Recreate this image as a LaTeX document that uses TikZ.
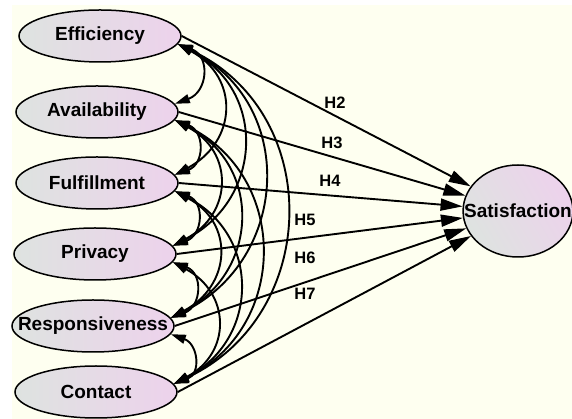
\documentclass[tikz,border=0pt]{standalone}
\usepackage{fontspec}
\setmainfont{Liberation Sans}
\usetikzlibrary{arrows.meta,shapes.geometric}

\definecolor{paper}{HTML}{FEFFF0}
\definecolor{fillgray}{HTML}{DEE3E0}
\definecolor{fillpink}{HTML}{EDD2EC}

\tikzset{
  construct/.style={ellipse, draw=black, line width=1.5pt,
    inner xsep=-18pt, inner ysep=0pt,
    minimum width=162pt, minimum height=52pt,
    left color=fillgray, right color=fillpink,
    font=\fontsize{19}{21}\selectfont\bfseries},
  outcome/.style={ellipse, draw=black, line width=1.5pt,
    inner xsep=-15pt, inner ysep=0pt,
    minimum width=106pt, minimum height=92pt,
    left color=fillgray, right color=fillpink, shading angle=120,
    font=\fontsize{19}{21}\selectfont\bfseries},
  hyp/.style={font=\fontsize{16.5}{18}\selectfont\bfseries},
  path/.style={line width=1.9pt, -{Triangle[length=22pt,width=12pt]}},
  cov/.style={line width=1.9pt,
    {Triangle[length=15pt,width=9pt]}-{Triangle[length=15pt,width=9pt]}},
  span1/.style={out=-20, in=20, looseness=1.5},
  span2/.style={out=-28, in=28, looseness=1.38},
  span3/.style={out=-27, in=27, looseness=1.28},
  span4/.style={out=-26, in=26, looseness=1.24},
  span5/.style={out=-25, in=25, looseness=1.22},
}

\begin{document}
\begin{tikzpicture}[x=1pt,y=1pt]
  % canvas
  \fill[white] (0,0) rectangle (572,419);
  \fill[paper] (12,0) rectangle (572,414);
  \useasboundingbox (0,0) rectangle (572,419);

  % exogenous constructs
  \node[construct] (eff)   at (100,383) {Efficiency};
  \node[construct] (avail) at (97,307)  {Availability};
  \node[construct] (fulf)  at (97,236)  {Fulfillment};
  \node[construct] (priv)  at (95,165)  {Privacy};
  \node[construct] (resp)  at (93,93)   {Responsiveness};
  \node[construct] (cont)  at (96,27)   {Contact};

  % endogenous construct
  \node[outcome] (sat) at (518,208) {Satisfaction};

  % structural paths
  \draw[path] (eff.east)   -- (sat);
  \draw[path] (avail.east) -- (sat);
  \draw[path] (fulf.east)  -- (sat);
  \draw[path] (priv.east)  -- (sat);
  \draw[path] (resp.east)  -- (sat);
  \draw[path] (cont.east)  -- (sat);

  % hypothesis labels
  \node[hyp] (h2) at (335,316) {H2};
  \node[hyp] (h3) at (332,276) {H3};
  \node[hyp] (h4) at (330,238) {H4};
  \node[hyp] (h5) at (305,199) {H5};
  \node[hyp] (h6) at (305,161) {H6};
  \node[hyp] (h7) at (305,125) {H7};

  % covariances between the exogenous constructs
  \draw[cov] (eff.-6)   to[span1] (avail.6);
  \draw[cov] (avail.-6) to[span1] (fulf.6);
  \draw[cov] (fulf.-6)  to[span1] (priv.6);
  \draw[cov] (priv.-6)  to[span1] (resp.6);
  \draw[cov] (resp.-6)  to[span1] (cont.6);

  \draw[cov] (eff.-6)   to[span2] (fulf.6);
  \draw[cov] (avail.-6) to[span2] (priv.6);
  \draw[cov] (fulf.-6)  to[span2] (resp.6);
  \draw[cov] (priv.-6)  to[span2] (cont.6);

  \draw[cov] (eff.-6)   to[span3] (priv.6);
  \draw[cov] (avail.-6) to[span3] (resp.6);
  \draw[cov] (fulf.-6)  to[span3] (cont.6);

  \draw[cov] (eff.-6)   to[span4] (resp.6);
  \draw[cov] (avail.-6) to[span4] (cont.6);

  \draw[cov] (eff.-6)   to[span5] (cont.6);
\end{tikzpicture}
\end{document}
